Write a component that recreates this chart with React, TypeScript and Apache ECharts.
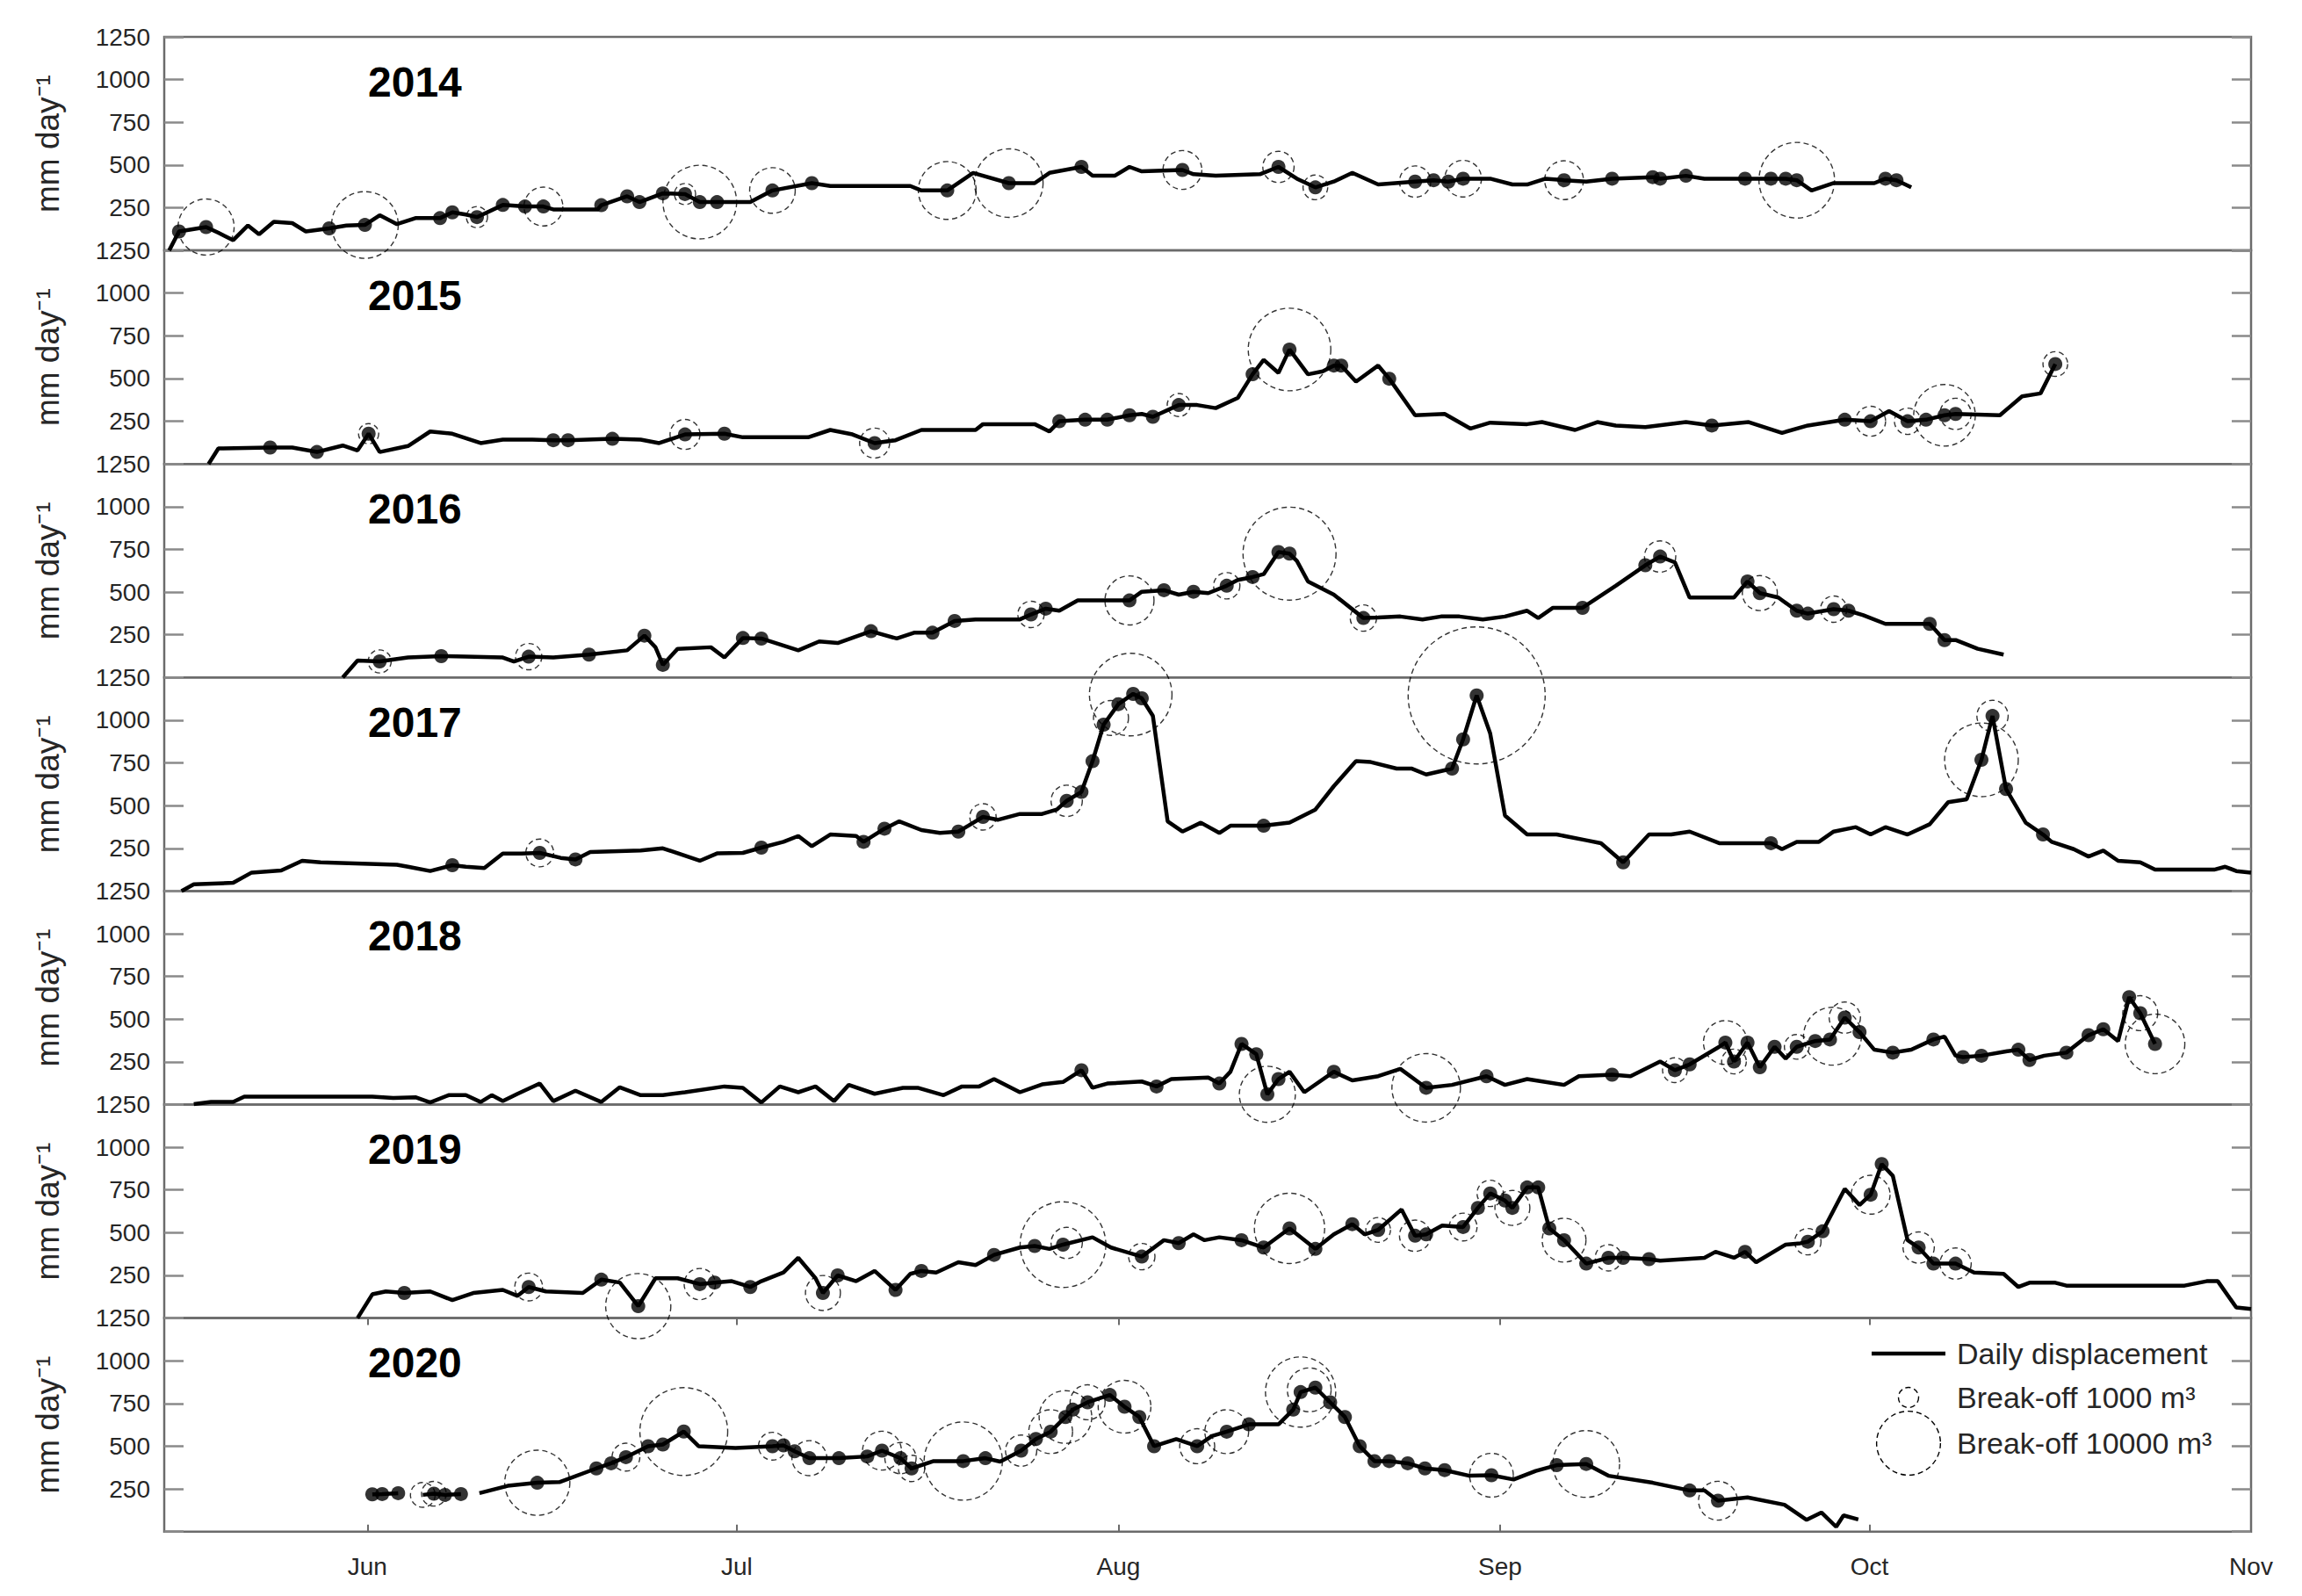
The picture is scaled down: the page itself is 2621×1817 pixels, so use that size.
import React, { useEffect, useRef } from "react";
import * as echarts from "echarts";

// ---------- data (day = days after 1 June; value = mm day-1; volume = m3) ----------
const YEARS = ["2014", "2015", "2016", "2017", "2018", "2019", "2020"];
const MONTH_TICKS = [0, 30, 61, 92, 122, 153];
const MONTH_LABELS = ["Jun", "Jul", "Aug", "Sep", "Oct", "Nov"];
const DAY_MIN = -16.5;
const DAY_MAX = 153;

const LINE_2014 = [[-16.1,0],[-15.3,111],[-13.1,137],[-12.1,103],[-10.9,60],[-9.7,146],[-8.8,94],[-7.6,168],[-6.1,160],[-5.0,111],[-3.1,129],[-1.7,146],[-0.2,149],[1.0,206],[2.4,154],[3.9,189],[5.9,189],[6.9,223],[8.0,210],[8.9,195],[11.0,266],[12.8,257],[14.3,257],[15.1,240],[18.7,240],[19.0,265],[21.1,317],[22.1,283],[24.0,334],[25.8,330],[27.0,283],[28.4,283],[31.1,283],[32.9,351],[36.1,394],[37.6,377],[44.1,377],[45.0,351],[47.1,351],[49.2,454],[52.1,394],[54.2,394],[55.4,454],[58.0,489],[58.9,437],[60.7,437],[61.9,489],[62.9,463],[66.2,471],[67.1,446],[68.9,437],[72.5,446],[74.0,489],[75.5,420],[77.0,369],[78.5,403],[80.0,454],[82.1,386],[85.1,403],[86.6,411],[87.8,403],[89.0,420],[91.2,420],[93.0,386],[94.2,386],[95.7,420],[97.2,411],[99.0,403],[101.1,420],[104.4,429],[105.0,420],[107.1,437],[108.6,420],[111.9,420],[114.0,420],[115.2,420],[116.1,411],[117.3,351],[119.1,394],[122.4,394],[123.3,420],[124.2,411],[125.4,369]];
const DOTS_2014 = [[-15.3,111],[-13.1,137],[-3.1,129],[-0.2,149],[5.9,189],[6.9,223],[8.9,195],[11.0,266],[12.8,257],[14.3,257],[19.0,265],[21.1,317],[22.1,283],[24.0,334],[25.8,330],[27.0,283],[28.4,283],[32.9,351],[36.1,394],[47.1,351],[52.1,394],[58.0,489],[66.2,471],[74.0,489],[77.0,369],[85.1,403],[86.6,411],[87.8,403],[89.0,420],[97.2,411],[101.1,420],[104.4,429],[105.0,420],[107.1,437],[111.9,420],[114.0,420],[115.2,420],[116.1,411],[123.3,420],[124.2,411]];
const CIRC_2014 = [[-13.1,137,7700],[-0.2,149,10900],[8.9,195,1100],[14.3,257,3700],[25.8,330,1100],[27.0,283,13300],[32.9,351,5100],[47.1,351,8200],[52.1,394,11500],[66.2,471,3700],[74.0,489,2400],[77.0,369,1500],[85.1,403,2400],[89.0,420,3300],[97.2,411,3700],[116.1,411,14000]];

const LINE_2015 = [[-12.9,0],[-12.1,91],[-7.9,96],[-6.1,96],[-4.1,70],[-2.0,108],[-0.8,79],[0.1,177],[1.0,70],[3.3,105],[5.1,190],[6.9,177],[9.2,122],[11.0,142],[13.4,142],[15.1,139],[16.3,139],[19.9,147],[22.2,142],[23.7,122],[25.8,173],[29.0,177],[30.5,156],[35.8,156],[37.6,199],[39.4,173],[41.2,122],[42.9,139],[45.0,199],[49.4,199],[50.0,233],[54.2,233],[55.4,190],[56.2,250],[58.3,259],[60.1,259],[61.9,285],[62.9,293],[63.8,276],[65.9,345],[67.4,345],[68.9,327],[70.7,387],[71.9,525],[72.8,610],[74.0,533],[74.9,670],[76.4,525],[77.6,542],[78.5,576],[79.1,576],[80.3,482],[82.1,576],[83.0,499],[85.1,285],[87.5,293],[89.6,207],[91.2,242],[94.2,233],[95.4,245],[98.1,199],[99.9,245],[101.4,225],[103.8,216],[107.1,245],[109.2,225],[112.2,245],[114.9,182],[117.0,225],[120.0,259],[122.1,250],[123.6,310],[125.1,250],[126.6,259],[128.1,285],[129.0,293],[132.6,285],[134.4,396],[135.9,413],[137.1,585]];
const DOTS_2015 = [[-7.9,96],[-4.1,70],[0.1,177],[15.1,139],[16.3,139],[19.9,147],[25.8,173],[29.0,177],[41.2,122],[56.2,250],[58.3,259],[60.1,259],[61.9,285],[63.8,276],[65.9,345],[71.9,525],[74.9,670],[78.5,576],[79.1,576],[83.0,499],[109.2,225],[120.0,259],[122.1,250],[125.1,250],[126.6,259],[128.1,285],[129.0,293],[137.1,585]];
const CIRC_2015 = [[0.1,177,1000],[25.8,173,2200],[41.2,122,2200],[65.9,345,1300],[74.9,670,16700],[122.1,250,2200],[125.1,250,1700],[128.1,285,9300],[129.0,293,2400],[137.1,585,1500]];

const LINE_2016 = [[-2.0,0],[-0.8,99],[1.0,94],[3.3,117],[6.0,125],[8.0,122],[11.0,117],[11.9,94],[13.1,122],[15.1,117],[18.0,134],[21.1,159],[22.5,245],[23.4,177],[24.0,74],[25.2,168],[27.9,177],[29.0,117],[30.5,231],[32.0,228],[33.5,194],[35.0,159],[36.7,211],[38.2,202],[40.9,271],[43.0,228],[44.4,262],[45.9,262],[47.7,331],[49.4,340],[53.0,340],[53.9,369],[55.1,403],[56.2,391],[57.7,451],[60.1,451],[61.9,451],[62.9,502],[64.7,511],[65.9,485],[67.1,502],[68.3,494],[69.8,537],[70.7,571],[71.9,588],[72.8,605],[74.0,734],[74.9,725],[75.5,682],[76.4,562],[78.5,485],[80.9,348],[82.1,351],[83.9,357],[85.7,340],[87.2,357],[88.7,357],[90.6,340],[92.4,357],[94.2,391],[95.1,348],[96.3,408],[98.7,408],[101.4,537],[103.8,657],[105.0,708],[106.2,674],[107.4,468],[111.0,468],[112.1,562],[113.1,494],[114.6,468],[116.1,391],[117.0,374],[119.1,400],[120.3,391],[121.5,365],[123.3,314],[126.9,314],[128.1,219],[129.0,219],[130.8,168],[132.9,134]];
const DOTS_2016 = [[1.0,94],[6.0,125],[13.1,122],[18.0,134],[22.5,245],[24.0,74],[30.5,231],[32.0,228],[40.9,271],[45.9,262],[47.7,331],[53.9,369],[55.1,403],[61.9,451],[64.7,511],[67.1,502],[69.8,537],[71.9,588],[74.0,734],[74.9,725],[80.9,348],[98.7,408],[103.8,657],[105.0,708],[112.1,562],[113.1,494],[116.1,391],[117.0,374],[119.1,400],[120.3,391],[126.9,314],[128.1,219]];
const CIRC_2016 = [[1.0,94,1300],[13.1,122,1700],[53.9,369,1700],[61.9,451,5900],[69.8,537,1700],[74.9,725,21200],[80.9,348,1700],[105.0,708,2400],[113.1,494,3000],[119.1,400,1700]];

const LINE_2017 = [[-15.1,0],[-14.1,39],[-10.9,48],[-9.4,108],[-7.0,120],[-5.3,177],[-3.8,168],[2.4,154],[3.3,142],[5.1,117],[6.9,151],[8.0,142],[9.5,134],[11.0,219],[12.5,219],[14.0,223],[15.7,194],[16.9,185],[18.1,228],[22.2,237],[24.0,250],[27.0,177],[28.4,220],[30.5,223],[32.0,254],[33.8,288],[35.0,322],[36.1,262],[37.6,331],[39.7,322],[40.3,288],[42.0,365],[43.2,408],[45.0,357],[46.5,340],[48.0,348],[48.8,382],[50.0,434],[51.2,417],[53.0,451],[54.8,451],[56.0,477],[56.8,528],[58.0,580],[58.9,760],[59.8,974],[61.0,1094],[62.2,1154],[62.9,1128],[63.8,1025],[65.0,408],[66.2,348],[67.7,400],[69.2,340],[70.1,382],[72.8,382],[74.9,400],[77.0,477],[78.5,614],[80.3,760],[81.5,755],[83.6,717],[84.8,717],[86.0,682],[88.1,717],[89.0,888],[90.1,1145],[91.2,922],[92.4,442],[94.2,331],[96.6,331],[99.0,297],[100.2,280],[102.0,168],[104.1,331],[105.9,331],[107.4,348],[109.8,280],[114.0,280],[114.9,245],[116.1,288],[117.9,288],[119.1,348],[120.9,374],[122.1,331],[123.3,374],[125.1,331],[126.9,391],[128.4,520],[129.9,537],[131.1,768],[132.0,1025],[133.1,597],[134.7,400],[136.1,331],[136.8,288],[138.6,245],[139.8,202],[141.0,237],[142.2,177],[144.0,168],[145.2,125],[150.0,125],[150.9,142],[151.8,117],[153.0,108]];
const DOTS_2017 = [[6.9,151],[14.0,223],[16.9,185],[32.0,254],[40.3,288],[42.0,365],[48.0,348],[50.0,434],[56.8,528],[58.0,580],[58.9,760],[59.8,974],[61.0,1094],[62.2,1154],[62.9,1128],[72.8,382],[88.1,717],[89.0,888],[90.1,1145],[102.0,168],[114.0,280],[131.1,768],[132.0,1025],[133.1,597],[136.1,331]];
const CIRC_2017 = [[14.0,223,1900],[50.0,434,1700],[56.8,528,2400],[60.4,1013,3000],[62.0,1150,16700],[90.1,1145,46000],[131.1,768,13300],[132.0,1025,2400]];

const LINE_2018 = [[-14.1,3],[-12.7,15],[-10.9,15],[-10.0,46],[0.4,46],[2.1,38],[3.9,43],[5.1,12],[6.6,55],[8.0,55],[9.2,15],[10.1,55],[11.0,21],[12.2,63],[14.0,123],[15.1,20],[16.9,81],[19.0,15],[20.5,101],[22.2,55],[24.0,55],[25.8,72],[29.0,106],[30.5,98],[32.0,12],[33.5,106],[35.0,72],[36.4,106],[37.9,20],[39.1,115],[41.2,63],[43.5,98],[44.7,98],[46.8,55],[48.3,106],[49.7,106],[50.9,149],[53.0,72],[54.8,118],[56.5,132],[58.0,201],[58.9,98],[60.1,123],[62.9,135],[64.1,106],[65.3,149],[68.3,158],[69.2,123],[70.1,192],[71.0,355],[72.2,295],[73.1,60],[74.0,149],[74.9,192],[76.1,72],[78.5,192],[80.0,141],[82.1,166],[83.9,209],[86.0,98],[88.1,115],[90.9,166],[92.4,115],[94.2,149],[97.2,115],[98.4,166],[101.1,175],[102.6,166],[105.0,252],[106.2,201],[107.4,235],[109.8,338],[110.3,363],[111.0,252],[112.1,363],[113.1,218],[114.3,338],[115.2,269],[116.1,338],[117.6,372],[118.8,381],[120.0,509],[121.2,424],[122.4,321],[123.9,304],[125.4,321],[127.2,381],[128.1,398],[129.0,286],[129.6,278],[131.1,286],[133.2,312],[134.1,321],[135.0,261],[136.2,286],[138.0,304],[139.8,406],[141.0,441],[142.2,372],[143.1,629],[144.0,535],[145.2,355]];
const DOTS_2018 = [[58.0,201],[64.1,106],[69.2,123],[71.0,355],[72.2,295],[73.1,60],[74.0,149],[78.5,192],[86.0,98],[90.9,166],[101.1,175],[106.2,201],[107.4,235],[110.3,363],[111.0,252],[112.1,363],[113.1,218],[114.3,338],[116.1,338],[117.6,372],[118.8,381],[120.0,509],[121.2,424],[123.9,304],[127.2,381],[129.6,278],[131.1,286],[134.1,321],[135.0,261],[138.0,304],[139.8,406],[141.0,441],[143.1,629],[144.0,535],[145.2,355]];
const CIRC_2018 = [[73.1,60,7700],[86.0,98,11500],[106.2,201,1500],[110.3,363,4700],[111.0,252,1500],[116.1,338,1500],[119.0,400,8200],[120.0,509,2400],[144.0,535,3000],[145.2,355,8700]];

const LINE_2019 = [[-0.8,0],[0.4,139],[1.5,156],[3.0,147],[5.1,156],[6.9,105],[8.6,147],[11.0,165],[12.2,130],[13.1,182],[14.5,156],[17.5,147],[19.0,225],[20.5,208],[22.0,70],[23.4,233],[25.2,233],[27.0,199],[28.2,208],[29.6,216],[31.1,182],[32.0,216],[33.8,267],[35.0,353],[36.4,233],[37.0,147],[38.2,250],[39.7,216],[41.2,276],[42.9,165],[44.1,259],[45.0,276],[46.2,267],[48.0,327],[49.4,310],[50.9,370],[53.0,413],[54.2,422],[55.4,405],[56.5,430],[58.9,473],[60.4,413],[62.9,360],[64.7,456],[65.9,439],[67.1,490],[68.0,456],[69.2,473],[71.0,456],[72.8,413],[74.9,525],[77.0,405],[78.5,490],[80.0,550],[81.0,490],[82.1,516],[84.0,636],[85.1,482],[86.0,490],[87.3,542],[89.0,533],[90.2,645],[91.2,730],[92.4,688],[93.0,645],[94.2,765],[95.1,765],[96.0,525],[97.2,456],[99.0,319],[100.8,353],[102.0,353],[104.1,345],[105.0,336],[108.6,353],[109.5,388],[111.0,353],[111.9,388],[112.8,327],[115.2,430],[116.4,438],[117.0,447],[118.2,508],[120.0,756],[121.2,662],[122.1,722],[123.0,902],[123.9,833],[125.1,456],[126.0,413],[127.2,319],[129.0,319],[130.5,267],[132.9,259],[134.1,182],[135.0,207],[137.1,207],[138.0,190],[147.6,190],[149.4,216],[150.3,216],[151.8,62],[153.0,53]];
const DOTS_2019 = [[3.0,147],[13.1,182],[19.0,225],[22.0,70],[27.0,199],[28.2,208],[31.1,182],[37.0,147],[38.2,250],[42.9,165],[45.0,276],[50.9,370],[54.2,422],[56.5,430],[62.9,360],[65.9,439],[71.0,456],[72.8,413],[74.9,525],[77.0,405],[80.0,550],[82.1,516],[85.1,482],[86.0,490],[89.0,533],[90.2,645],[91.2,730],[92.4,688],[93.0,645],[94.2,765],[95.1,765],[96.0,525],[97.2,456],[99.0,319],[100.8,353],[102.0,353],[104.1,345],[111.9,388],[117.0,447],[118.2,508],[122.1,722],[123.0,902],[126.0,413],[127.2,319],[129.0,319]];
const CIRC_2019 = [[13.1,182,1900],[22.0,70,10400],[27.0,199,2400],[37.0,147,3000],[56.5,430,18000],[56.8,440,2400],[62.9,360,1700],[74.9,525,12100],[82.1,516,1500],[85.1,482,2400],[89.0,533,1900],[91.2,730,1700],[93.0,645,3000],[97.2,456,4700],[100.8,353,1700],[117.0,447,1700],[122.1,722,3700],[126.0,413,2400],[129.0,319,2400]];

const LINE_2020 = [[0.4,218],[1.2,220],[2.5,225],[3.2,null],[4.5,215],[5.4,222],[6.3,215],[7.6,220],[8.3,null],[9.1,225],[11.4,268],[13.8,286],[15.6,290],[18.6,370],[19.8,400],[21.0,436],[22.8,500],[24.0,510],[25.7,586],[26.9,500],[29.9,490],[32.9,500],[33.8,505],[34.7,470],[35.9,430],[38.3,430],[40.6,440],[41.8,474],[43.3,430],[44.2,370],[46.0,413],[48.4,413],[50.2,430],[51.4,410],[53.1,474],[54.3,542],[55.5,585],[56.7,671],[57.3,714],[58.5,757],[60.3,800],[61.5,731],[62.7,671],[63.9,500],[65.7,542],[67.4,500],[68.6,560],[69.8,585],[71.6,628],[74.0,628],[75.2,714],[75.8,817],[77.0,843],[78.2,757],[79.4,671],[80.6,500],[81.8,413],[83.0,413],[84.5,400],[85.9,370],[87.5,360],[89.5,327],[91.3,330],[93.1,305],[94.9,355],[96.6,389],[99.0,396],[100.8,327],[104.4,286],[107.4,241],[108.6,241],[109.7,181],[112.1,200],[115.1,157],[116.9,69],[118.1,112],[119.3,28],[119.9,95],[121.1,71]];
const DOTS_2020 = [[0.4,218],[1.2,220],[2.5,225],[5.4,222],[6.3,215],[7.6,220],[13.8,286],[18.6,370],[19.8,400],[21.0,436],[22.8,500],[24.0,510],[25.7,586],[32.9,500],[33.8,505],[34.7,470],[35.9,430],[38.3,430],[40.6,440],[41.8,474],[43.3,430],[44.2,370],[48.4,413],[50.2,430],[53.1,474],[54.3,542],[55.5,585],[56.7,671],[57.3,714],[58.5,757],[60.3,800],[61.5,731],[62.7,671],[63.9,500],[67.4,500],[69.8,585],[71.6,628],[75.2,714],[75.8,817],[77.0,843],[78.2,757],[79.4,671],[80.6,500],[81.8,413],[83.0,413],[84.5,400],[85.9,370],[87.5,360],[91.3,330],[96.6,389],[99.0,396],[107.4,241],[109.7,181]];
const CIRC_2020 = [[4.5,215,1500],[5.4,222,1500],[13.8,286,10400],[21.0,436,1900],[25.7,586,18900],[32.9,500,1900],[35.9,430,3000],[41.8,474,3700],[43.3,430,2400],[44.2,370,1700],[48.4,413,15000],[53.1,474,2400],[55.5,585,4700],[56.7,671,6800],[58.5,757,3000],[61.5,731,6800],[67.4,500,3000],[69.8,585,4700],[75.8,817,12100],[76.5,830,4700],[91.3,330,4700],[99.0,396,10900],[109.7,181,3700]];

const LINES = [LINE_2014, LINE_2015, LINE_2016, LINE_2017, LINE_2018, LINE_2019, LINE_2020];
const DOTS = [DOTS_2014, DOTS_2015, DOTS_2016, DOTS_2017, DOTS_2018, DOTS_2019, DOTS_2020];
const CIRCLES = [CIRC_2014, CIRC_2015, CIRC_2016, CIRC_2017, CIRC_2018, CIRC_2019, CIRC_2020];

const LEGEND_LABELS = ["Daily displacement", "Break-off 1000 m³", "Break-off 10000 m³"];
const LEGEND_VOLUMES = [1000, 10000];

// ---------- layout / style ----------
const W = 2621;
const H = 1817;
const GRID_LEFT = 187;
const GRID_RIGHT = 2563;
const GRID_TOP = 42;
const PANEL_H = 243.1;
const FONT = "'Liberation Sans', Arial, Helvetica, sans-serif";
const TEXT = "#262626";
const AXIS = "#6b6b6b";
const R_1000 = 11.5; // px radius of a 1000 m3 circle
const circleSize = (vol: number) => 2 * R_1000 * Math.sqrt(vol / 1000);

function buildOption() {
  const n = YEARS.length;
  const grids = YEARS.map((_, i) => ({
    left: GRID_LEFT,
    width: GRID_RIGHT - GRID_LEFT,
    top: GRID_TOP + i * PANEL_H,
    height: PANEL_H,
    show: true,
    borderColor: AXIS,
    borderWidth: 2.5,
    backgroundColor: "transparent",
  }));

  const xAxes: any[] = YEARS.map((_, i) => {
    const last = i === n - 1;
    return {
      type: "value",
      gridIndex: i,
      position: "bottom",
      min: DAY_MIN,
      max: DAY_MAX,
      axisLine: { show: false, onZero: false },
      splitLine: { show: false },
      axisTick: {
        show: last,
        inside: true,
        length: 8,
        customValues: MONTH_TICKS,
        lineStyle: { color: AXIS, width: 2 },
      },
      axisLabel: {
        show: last,
        customValues: MONTH_TICKS,
        formatter: (v: number) => MONTH_LABELS[MONTH_TICKS.indexOf(v)] ?? "",
        fontSize: 28,
        fontFamily: FONT,
        color: TEXT,
        margin: 26,
      },
    };
  });
  xAxes.push({
    type: "value",
    gridIndex: n - 1,
    position: "top",
    min: DAY_MIN,
    max: DAY_MAX,
    axisLine: { show: false, onZero: false },
    splitLine: { show: false },
    axisLabel: { show: false },
    axisTick: {
      show: true,
      inside: true,
      length: 8,
      customValues: MONTH_TICKS,
      lineStyle: { color: AXIS, width: 2 },
    },
  });

  const yAxes: any[] = [];
  YEARS.forEach((_, i) => {
    const common = {
      type: "value",
      gridIndex: i,
      min: 0,
      max: 1250,
      interval: 250,
      axisLine: { show: false, onZero: false },
      splitLine: { show: false },
      axisTick: { show: true, inside: true, length: 22, lineStyle: { color: "#8a8a8a", width: 2.5 } },
    };
    yAxes.push({
      ...common,
      position: "left",
      name: "mm day⁻¹",
      nameLocation: "middle",
      nameGap: 114,
      nameTextStyle: { fontSize: 37, fontFamily: FONT, color: TEXT },
      axisLabel: {
        fontSize: 28,
        fontFamily: FONT,
        color: TEXT,
        margin: 16,
        formatter: (v: number) => (v === 0 ? "" : String(v)),
      },
    });
    yAxes.push({ ...common, position: "right", axisLabel: { show: false } });
  });

  const series: any[] = [];
  YEARS.forEach((_, i) => {
    series.push({
      type: "line",
      xAxisIndex: i,
      yAxisIndex: 2 * i,
      data: LINES[i],
      showSymbol: false,
      connectNulls: false,
      lineStyle: { color: "#000", width: 4.5 },
      z: 2,
      silent: true,
    });
    series.push({
      type: "scatter",
      xAxisIndex: i,
      yAxisIndex: 2 * i,
      data: DOTS[i],
      symbol: "circle",
      symbolSize: 16,
      itemStyle: { color: "#000" },
      z: 3,
      silent: true,
    });
    series.push({
      type: "scatter",
      xAxisIndex: i,
      yAxisIndex: 2 * i,
      data: CIRCLES[i],
      symbol: "circle",
      symbolSize: (v: number[]) => circleSize(v[2]),
      itemStyle: {
        color: "rgba(0,0,0,0)",
        borderColor: "#000",
        borderWidth: 1.4,
        borderType: [6, 4],
      },
      z: 4,
      silent: true,
    });
  });

  const yearLabels = YEARS.map((y, i) => ({
    type: "text",
    left: 419,
    top: GRID_TOP + i * PANEL_H + 51 - 24,
    style: { text: y, font: `bold 48px ${FONT}`, fill: "#000" },
    z: 10,
  }));

  const lgX = 2131;
  const lgCx = 2173;
  const lgTextX = 2228;
  const lgY = [1541, 1591, 1643];
  const legend = [
    { type: "line", shape: { x1: lgX, y1: lgY[0], x2: 2215, y2: lgY[0] }, style: { stroke: "#000", lineWidth: 4.5 }, z: 10 },
    { type: "circle", shape: { cx: lgCx, cy: lgY[1], r: circleSize(LEGEND_VOLUMES[0]) / 2 }, style: { fill: "none", stroke: "#000", lineWidth: 1.4, lineDash: [6, 4] }, z: 10 },
    { type: "circle", shape: { cx: lgCx, cy: lgY[2], r: circleSize(LEGEND_VOLUMES[1]) / 2 }, style: { fill: "none", stroke: "#000", lineWidth: 1.4, lineDash: [6, 4] }, z: 10 },
    ...LEGEND_LABELS.map((t, k) => ({
      type: "text",
      x: lgTextX,
      y: lgY[k],
      style: { text: t, font: `34px ${FONT}`, fill: TEXT, textVerticalAlign: "middle", verticalAlign: "middle" },
      z: 10,
    })),
  ];

  return {
    animation: false,
    backgroundColor: "#fff",
    grid: grids,
    xAxis: xAxes,
    yAxis: yAxes,
    series,
    graphic: [...yearLabels, ...legend],
  };
}

export default function App() {
  const ref = useRef<HTMLDivElement>(null);
  useEffect(() => {
    document.body.style.margin = "0";
    const chart = echarts.init(ref.current!, null, { renderer: "svg" });
    chart.setOption(buildOption() as any);
    return () => chart.dispose();
  }, []);
  return <div ref={ref} style={{ width: W, height: H, background: "#fff" }} />;
}
